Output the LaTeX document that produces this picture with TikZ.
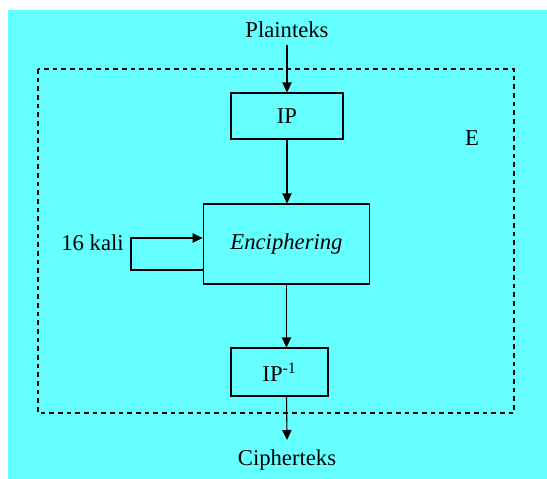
\documentclass[tikz,border=0pt]{standalone}
\usepackage{fontspec}
\setmainfont{Liberation Serif}
\usepackage{tikz}
\usetikzlibrary{arrows.meta,positioning}
\definecolor{bgcyan}{RGB}{102,255,255}
\tikzstyle{ipblock}=[rectangle, draw, line width=0.8pt, align=center, minimum width=84pt, minimum height=34.5pt, inner sep=0pt]
\tikzstyle{encblock}=[rectangle, draw, line width=0.8pt, align=center, minimum width=125pt, minimum height=60pt, inner sep=0pt]
\tikzstyle{arr}=[-{Triangle[length=7.5pt,width=7pt]}, line width=0.8pt]

\begin{document}
\begin{tikzpicture}[x=0.75pt, y=-0.75pt, every node/.style = {font=\fontsize{17}{20}\selectfont}]

\useasboundingbox (0,0) rectangle (547,479);
\fill[bgcyan] (8,10) rectangle (547,479);
\draw[line width=0.8pt, dash pattern=on 3.5pt off 3pt] (38,69) rectangle (514,413);

\node (plain) at (287,30) {Plainteks};
\node[ipblock] (ip) at (287,116) {IP};
\node[encblock] (enc) at (286.5,244) {\textit{Enciphering}};
\node[ipblock, minimum width=72.75pt, minimum height=36pt] (ipinv) at (279.5,372) {IP\textsuperscript{-1}};
\node (cipher) at (287,460) {Cipherteks};
\node (e) at (472,138) {E};
\node (kali) at (92.5,243) {16 kali};

\coordinate (in) at (287,45);
\coordinate (out) at (287,440);
\coordinate (lp) at (131,238);

\draw[arr] (in) -- (ip.north);
\draw[arr] (ip.south) -- (ip.south |- enc.north);
\draw[arr] (enc.south) -- (enc.south |- ipinv.north);
\draw[arr] (enc.south |- ipinv.south) -- (out);
\draw[arr] (enc.west |- 0,270) -| (lp) -- (enc.west |- lp);

\end{tikzpicture}
\end{document}
